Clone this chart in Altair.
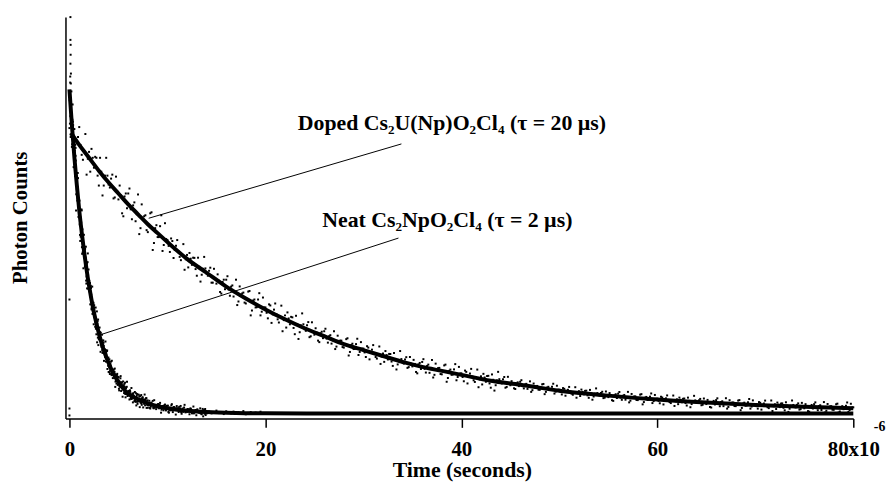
import altair as alt
import pandas as pd

# ---------------- data ----------------
DOPED_T = [0,.25,.5,.75,1,1.25,1.5,1.75,2,2.25,2.5,2.75,3,3.25,3.5,3.75,4,4.25,4.5,4.75,
5,5.25,5.5,5.75,6,6.25,6.5,6.75,7,7.25,7.5,7.75,8,8.25,8.5,8.75,9,9.25,9.5,9.75,
10,10.25,10.5,10.75,11,11.25,11.5,11.75,12,12.25,12.5,12.75,13,13.25,13.5,13.75,14,14.25,14.5,14.75,
15,15.25,15.5,15.75,16,16.25,16.5,16.75,17,17.25,17.5,17.75,18,18.25,18.5,18.75,19,19.25,19.5,19.75,
20,20.25,20.5,20.75,21,21.25,21.5,21.75,22,22.25,22.5,22.75,23,23.25,23.5,23.75,24,24.25,24.5,24.75,
25,25.25,25.5,25.75,26,26.25,26.5,26.75,27,27.25,27.5,27.75,28,28.25,28.5,28.75,29,29.25,29.5,29.75,
30,30.25,30.5,30.75,31,31.25,31.5,31.75,32,32.25,32.5,32.75,33,33.25,33.5,33.75,34,34.25,34.5,34.75,
35,35.25,35.5,35.75,36,36.25,36.5,36.75,37,37.25,37.5,37.75,38,38.25,38.5,38.75,39,39.25,39.5,39.75,
40,40.25,40.5,40.75,41,41.25,41.5,41.75,42,42.25,42.5,42.75,43,43.25,43.5,43.75,44,44.25,44.5,44.75,
45,45.25,45.5,45.75,46,46.25,46.5,46.75,47,47.25,47.5,47.75,48,48.25,48.5,48.75,49,49.25,49.5,49.75,
50,50.25,50.5,50.75,51,51.25,51.5,51.75,52,52.25,52.5,52.75,53,53.25,53.5,53.75,54,54.25,54.5,54.75,
55,55.25,55.5,55.75,56,56.25,56.5,56.75,57,57.25,57.5,57.75,58,58.25,58.5,58.75,59,59.25,59.5,59.75,
60,60.25,60.5,60.75,61,61.25,61.5,61.75,62,62.25,62.5,62.75,63,63.25,63.5,63.75,64,64.25,64.5,64.75,
65,65.25,65.5,65.75,66,66.25,66.5,66.75,67,67.25,67.5,67.75,68,68.25,68.5,68.75,69,69.25,69.5,69.75,
70,70.25,70.5,70.75,71,71.25,71.5,71.75,72,72.25,72.5,72.75,73,73.25,73.5,73.75,74,74.25,74.5,74.75,
75,75.25,75.5,75.75,76,76.25,76.5,76.75,77,77.25,77.5,77.75,78,78.25,78.5,78.75,79,79.25,79.5,79.75,80]
DOPED_V = [288,269,287,274,289,261,265,241,264,267,248,258,230,244,230,258,231,237,217,239,
216,220,199,222,222,206,210,194,221,187,196,200,183,202,165,187,178,189,164,192,
175,163,174,165,175,158,160,145,160,162,150,157,139,148,140,158,141,144,132,146,
131,134,121,135,135,125,128,118,135,113,119,122,111,123,99,114,107,115,99,117,
107,96,109,100,111,95,98,83,99,102,90,97,80,90,82,101,85,89,77,92,
79.5,81.5,72,82.5,83,75.5,78,70.5,83,67.5,72,73.5,66.5,75,58.5,69,65,70,59,72,
65.5,57,66.5,61,69,57,59.5,50,60.5,63,54.5,60,48,55,49.5,63,51,54.5,46,57,
47.5,50,40.5,51,52,45,48,41,54,39,44,46,39.5,48.5,32,43,39,44.5,33.5,47,
40.5,32.5,42,37,45,33.5,36,26.5,37.5,40,32,38,26,34,28.5,42,31,34.5,26,37,
28.5,30.1,24.7,31.4,32,27.6,29.2,24.8,32.4,23.5,26.5,27.8,23.9,29.4,19.5,26.2,23.8,26.9,20.1,28,
24,19.2,24.9,22,26.8,20,21.5,15.9,22.5,24.1,19.3,23,15.8,20.4,17.1,25.3,18.4,20.6,15.5,22.2,
16.5,18.1,12.7,19.4,20,16,17.9,13.9,21.8,12.9,16,17.3,13.5,19,9.2,15.9,13.6,17,10.5,18.7,
15,10.3,16.1,13.3,18.2,11.5,13.1,7.6,14.3,16,11.3,15.1,8,12.7,9.5,17.8,11,13.3,8.3,15.1,
9.5,11.2,6,12.7,13.5,9.5,11.5,7.4,15.4,6.6,9.8,11.1,7.4,13,3.3,10,7.8,11.3,4.9,13.2,
9.6,4.9,10.8,8,13,6.3,8,2.5,9.3,11,6.4,10.2,3.2,7.9,4.8,13.1,6.4,8.7,3.9,10.7,
5.2,6.9,1.8,8.6,9.4,5.4,7.5,3.5,11.5,2.7,6,7.4,3.7,9.3,1.0,6.5,4.3,7.8,1.5,9.8,6.2]

DOPED_T2 = [.125,.375,.625,.875,1.125,1.375,1.625,1.875,2.125,2.375,2.625,2.875,3.125,3.375,3.625,3.875,4.125,4.375,4.625,4.875,
5.125,5.375,5.625,5.875,6.125,6.375,6.625,6.875,7.125,7.375,7.625,7.875,8.125,8.375,8.625,8.875,9.125,9.375,9.625,9.875,
10.125,10.375,10.625,10.875,11.125,11.375,11.625,11.875,12.125,12.375,12.625,12.875,13.125,13.375,13.625,13.875,14.125,14.375,14.625,14.875,
15.125,15.375,15.625,15.875,16.125,16.375,16.625,16.875,17.125,17.375,17.625,17.875,18.125,18.375,18.625,18.875,19.125,19.375,19.625,19.875,
20.125,20.375,20.625,20.875,21.125,21.375,21.625,21.875,22.125,22.375,22.625,22.875,23.125,23.375,23.625,23.875,24.125,24.375,24.625,24.875,
25.125,25.375,25.625,25.875,26.125,26.375,26.625,26.875,27.125,27.375,27.625,27.875,28.125,28.375,28.625,28.875,29.125,29.375,29.625,29.875,
30.125,30.375,30.625,30.875,31.125,31.375,31.625,31.875,32.125,32.375,32.625,32.875,33.125,33.375,33.625,33.875,34.125,34.375,34.625,34.875,
35.125,35.375,35.625,35.875,36.125,36.375,36.625,36.875,37.125,37.375,37.625,37.875,38.125,38.375,38.625,38.875,39.125,39.375,39.625,39.875,
40.125,40.375,40.625,40.875,41.125,41.375,41.625,41.875,42.125,42.375,42.625,42.875,43.125,43.375,43.625,43.875,44.125,44.375,44.625,44.875,
45.125,45.375,45.625,45.875,46.125,46.375,46.625,46.875,47.125,47.375,47.625,47.875,48.125,48.375,48.625,48.875,49.125,49.375,49.625,49.875,
50.125,50.375,50.625,50.875,51.125,51.375,51.625,51.875,52.125,52.375,52.625,52.875,53.125,53.375,53.625,53.875,54.125,54.375,54.625,54.875,
55.125,55.375,55.625,55.875,56.125,56.375,56.625,56.875,57.125,57.375,57.625,57.875,58.125,58.375,58.625,58.875,59.125,59.375,59.625,59.875,
60.125,60.375,60.625,60.875,61.125,61.375,61.625,61.875,62.125,62.375,62.625,62.875,63.125,63.375,63.625,63.875,64.125,64.375,64.625,64.875,
65.125,65.375,65.625,65.875,66.125,66.375,66.625,66.875,67.125,67.375,67.625,67.875,68.125,68.375,68.625,68.875,69.125,69.375,69.625,69.875,
70.125,70.375,70.625,70.875,71.125,71.375,71.625,71.875,72.125,72.375,72.625,72.875,73.125,73.375,73.625,73.875,74.125,74.375,74.625,74.875,
75.125,75.375,75.625,75.875,76.125,76.375,76.625,76.875,77.125,77.375,77.625,77.875,78.125,78.375,78.625,78.875,79.125,79.375,79.625,79.875]
DOPED_V2 = [279,291,260,279,271,256,282,257,244,258,259,240,258,220,240,240,228,241,218,224,
230,202,219,207,227,196,213,201,181,211,199,185,190,203,172,190,178,200,170,176,
169.1,176.6,156.9,169.3,163.7,154.7,170.9,155.6,147.4,156.2,157.2,145.7,157.2,133.1,146,146.4,139,147.1,132,135.9,
140.4,122.6,132.7,125.4,138.5,118.8,129.2,122.1,109.4,128.2,121.1,111.9,115.3,123.6,103.9,115,107.3,121.4,102.7,107,
101.6,110.1,91.4,104.8,100.1,91.8,108.8,94.2,86.7,95.9,97.5,86.3,98.6,75.2,88.9,90,83.4,92.2,77.9,82.5,
86,73.5,81,76,85.5,71.5,79,74,65,78.5,73.5,67,69.6,75.9,62.1,70.4,65.1,75.4,62.1,65.4,
61.6,67.9,54.6,64.4,61.1,55.4,67.6,57.4,52.1,58.9,60.1,52.4,61.1,44.4,54.1,54.9,50.3,56.8,46.8,50.3,
54.1,41.9,49.6,44.9,54.8,41.3,49.3,44.8,36.3,50.3,45.8,39.8,42.8,49.3,35.8,44.3,39.3,49.8,36.8,40.3,
36.8,43.3,30.3,40.3,37.3,31.8,44.3,34.3,29.3,36.3,37.8,30.3,39.4,23.1,33.4,34.6,30.3,36.8,26.8,30.3,
32.6,25.4,30.3,27.6,33.6,25.3,29.9,27.0,21.8,30.2,27.6,24.0,25.9,29.8,21.8,26.9,23.9,30.0,22.0,23.9,
21.7,25.6,17.9,23.9,22.2,18.9,26.5,20.5,17.6,21.8,22.8,18.3,23.8,13.9,20.0,20.6,18.0,21.9,16.0,18.1,
20.6,13.4,18.3,15.6,21.7,13.8,18.7,16.2,11.2,19.7,17.1,13.6,15.5,19.5,11.5,16.7,13.8,20.2,12.5,14.7,
12.7,16.8,9.1,15.3,13.6,10.5,18.1,12.3,9.4,13.8,14.8,10.5,16.0,6.3,12.4,13.2,10.6,14.7,8.8,11.1,
13.7,6.6,11.6,9.1,15.3,7.3,12.3,9.8,4.9,13.4,10.9,7.5,9.5,13.5,5.6,10.9,8.1,14.6,7.0,9.3,
7.4,11.5,3.9,10.1,8.5,5.4,13.1,7.3,4.5,8.9,10.0,5.7,11.3,1.6,7.8,8.6,6.1,10.2,4.4,6.8,
9.4,2.4,7.4,5.0,11.2,3.3,8.3,5.9,1.0,9.6,7.1,3.8,5.8,9.9,2.0,7.4,4.6,11.1,3.5,5.9]

NEAT_T = [0,0,0,.08,.1,.1,.1,.12,.12,.14,.15,
.05,.1,.15,.2,.25,.3,.35,.4,.45,.5,.55,.6,.65,.7,.75,.8,.85,.9,.95,1,
1.05,1.1,1.15,1.2,1.25,1.3,1.35,1.4,1.45,1.5,1.55,1.6,1.65,1.7,1.75,1.8,1.85,1.9,1.95,2,
2.05,2.1,2.15,2.2,2.25,2.3,2.35,2.4,2.45,2.5,2.55,2.6,2.65,2.7,2.75,2.8,2.85,2.9,2.95,3,
3.05,3.1,3.15,3.2,3.25,3.3,3.35,3.4,3.45,3.5,3.55,3.6,3.65,3.7,3.75,3.8,3.85,3.9,3.95,4,
4.05,4.1,4.15,4.2,4.25,4.3,4.35,4.4,4.45,4.5,4.55,4.6,4.65,4.7,4.75,4.8,4.85,4.9,4.95,5,
5.05,5.1,5.15,5.2,5.25,5.3,5.35,5.4,5.45,5.5,5.55,5.6,5.65,5.7,5.75,5.8,5.85,5.9,5.95,6,
6.05,6.1,6.15,6.2,6.25,6.3,6.35,6.4,6.45,6.5,6.55,6.6,6.65,6.7,6.75,6.8,6.85,6.9,6.95,7,
7.05,7.1,7.15,7.2,7.25,7.3,7.35,7.4,7.45,7.5,7.55,7.6,7.65,7.7,7.75,7.8,7.85,7.9,7.95,8,
8.1,8.2,8.3,8.4,8.5,8.6,8.7,8.8,8.9,9,9.1,9.2,9.3,9.4,9.5,9.6,9.7,9.8,9.9,10,
10.1,10.2,10.3,10.4,10.5,10.6,10.7,10.8,10.9,11,11.1,11.2,11.3,11.4,11.5,11.6,11.7,11.8,11.9,12,
12.1,12.2,12.3,12.4,12.5,12.6,12.7,12.8,12.9,13,13.1,13.2,13.3,13.4,13.5,13.6,13.7,13.8,13.9,14,
14.25,14.5,14.75,15,15.25,15.5,15.75,16,16.25,16.5,16.75,17,17.25,17.5,17.75,18,18.25,18.5,18.75,19,19.25,19.5,19.75,20]
NEAT_V = [115,5,-2,340,400,377,353,372,362,333,343,
292.5,300,306.5,325,295.6,296.4,294.4,268.5,275.8,259.2,265.2,271.4,255.2,221.2,226.2,214.9,242.7,215.2,213.2,197.9,
190.8,174.1,178.4,192.7,204.9,161.1,162.5,166.1,165.5,158.4,165.7,166.4,157.3,134.1,138.3,126.2,152.7,139.6,145.3,132.3,
128.2,131.6,123.1,126.7,105.1,108.0,100.5,110.6,111.7,106.5,97.1,96.9,92.6,85.5,79.9,103.0,90.4,76.5,69.0,74.8,
76.7,78.4,75.6,81.4,68.7,69.0,63.9,71.8,73.8,68.3,62.8,64.9,58.9,64.1,61.2,57.4,63.6,53.9,48.1,41.9,
46.6,41.6,43.3,48.2,52.4,38.7,39.4,40.9,40.9,39.0,41.6,42.0,39.5,32.2,33.9,30.2,38.9,34.9,37.0,33.1,
25.0,27.8,30.3,35.5,29.6,30.7,31.1,25.9,28.5,25.4,27.6,29.8,26.9,19.6,21.5,19.6,26.9,21.1,21.3,18.3,
20.6,22.4,20.1,22.1,15.0,16.7,14.6,18.9,19.8,18.5,15.7,16.2,15.2,13.1,11.7,20.4,16.5,11.9,9.7,12.1,
12.9,14.5,13.7,17.3,11.5,12.3,10.3,14.9,16.4,14.2,12.0,13.6,11.1,14.2,13.3,11.9,15.4,11.0,8.5,5.8,
8.2,5.6,6.9,10.0,12.7,5.2,5.9,7.0,7.4,6.5,5.9,8.9,7.6,3.8,5.0,3.2,8.4,6.4,7.8,5.9,
1.5,3.3,5.0,8.2,5.1,5.9,6.4,3.6,5.3,3.8,5.3,6.7,5.2,1.3,2.6,1.7,6.0,2.9,3.2,1.7,
3.1,4.3,3.0,4.4,0.2,1.3,0.1,2.9,3.5,2.8,1.3,1.6,1.1,0.0,-0.8,4.6,2.3,-0.3,-1.6,0.0,
2.0,0.1,1.5,2.9,0.4,1.1,-0.6,2.2,0.8,0.0,1.9,-0.4,1.2,0.5,2.4,-0.8,0.6,1.4,-0.2,0.9,0.1,1.8,-0.5,0.3]

NEAT_T2 = [.025,.075,.125,.175,.225,.275,.325,.375,.425,.475,.525,.575,.625,.675,.725,.775,.825,.875,.925,.975,
1.025,1.075,1.125,1.175,1.225,1.275,1.325,1.375,1.425,1.475,1.525,1.575,1.625,1.675,1.725,1.775,1.825,1.875,1.925,1.975,
2.025,2.075,2.125,2.175,2.225,2.275,2.325,2.375,2.425,2.475,2.525,2.575,2.625,2.675,2.725,2.775,2.825,2.875,2.925,2.975,
3.025,3.075,3.125,3.175,3.225,3.275,3.325,3.375,3.425,3.475,3.525,3.575,3.625,3.675,3.725,3.775,3.825,3.875,3.925,3.975,
4.025,4.075,4.125,4.175,4.225,4.275,4.325,4.375,4.425,4.475,4.525,4.575,4.625,4.675,4.725,4.775,4.825,4.875,4.925,4.975,
5.025,5.075,5.125,5.175,5.225,5.275,5.325,5.375,5.425,5.475,5.525,5.575,5.625,5.675,5.725,5.775,5.825,5.875,5.925,5.975,
6.025,6.075,6.125,6.175,6.225,6.275,6.325,6.375,6.425,6.475,6.525,6.575,6.625,6.675,6.725,6.775,6.825,6.875,6.925,6.975,
7.025,7.075,7.125,7.175,7.225,7.275,7.325,7.375,7.425,7.475,7.525,7.575,7.625,7.675,7.725,7.775,7.825,7.875,7.925,7.975,
8.05,8.15,8.25,8.35,8.45,8.55,8.65,8.75,8.85,8.95,9.05,9.15,9.25,9.35,9.45,9.55,9.65,9.75,9.85,9.95,
10.05,10.15,10.25,10.35,10.45,10.55,10.65,10.75,10.85,10.95,11.05,11.15,11.25,11.35,11.45,11.55,11.65,11.75,11.85,11.95,
12.05,12.15,12.25,12.35,12.45,12.55,12.65,12.75,12.85,12.95,13.05,13.15,13.25,13.35,13.45,13.55,13.65,13.75,13.85,13.95]
NEAT_V2 = [316.1,333.9,281.6,312.3,296.4,271.6,311.8,271.1,248.6,269.5,270.6,239.5,268.0,204.8,237.1,237.1,217.4,237.5,198.3,207.8,
214.8,180.2,197.8,182.9,205.9,167.8,185.8,171.3,146.5,180.3,166.2,148.2,153.6,168.3,131.1,151.1,136.1,161.5,125.9,133.2,
133.9,122.9,110.1,128.9,119.9,106.4,128.0,103.9,105.9,90.0,109.2,101.5,87.5,106.9,86.8,91.9,71.8,93.1,94.8,79.4,
78.1,86.7,82.1,62.2,74.5,67.2,79.5,61.1,68.7,71.4,53.1,62.1,57.2,72.6,52.3,59.4,63.0,44.9,51.4,56.4,
48.2,54.7,39.8,50.3,46.5,39.9,53.2,41.7,35.7,43.1,44.4,35.7,45.3,26.8,37.5,38.4,33.0,40.0,28.8,32.4,
36.7,23.3,32.0,26.8,37.7,22.7,31.5,26.3,16.9,32.3,27.3,20.6,24.0,31.1,16.3,25.7,20.2,31.9,17.6,21.5,
22.8,18.8,14.1,23.4,20.3,15.2,25.7,15.8,17.5,11.2,20.5,17.8,12.4,21.7,13.4,16.4,8.1,18.3,19.6,13.4,
13.1,18.9,17.1,6.4,14.2,10.8,18.6,8.7,13.7,15.9,6.1,11.9,9.7,19.1,8.2,12.8,15.4,5.6,9.8,13.2,
9.0,12.8,5.0,11.0,9.2,5.9,13.4,7.4,4.4,8.7,9.6,5.2,10.7,0.8,6.9,7.6,5.0,9.0,3.1,5.4,
7.9,0.8,5.8,3.2,9.4,1.4,6.4,3.8,-1.1,7.5,5.0,1.5,3.5,7.6,-0.3,5.0,2.2,8.7,1.1,3.4,
4.5,2.1,-0.8,5.2,3.4,0.3,7.0,0.8,2.1,-1.8,4.2,2.7,0.7,5.2,0.2,2.1,-2.9,3.5,4.5,0.6]

DOPED_FIT_T = [0.17,1,2,3,4,5,6,7,8,9,10,12,14,16,18,20,22,24,26,28,30,32,34,36,38,40,43,46,50,55,60,65,70,75,80]
DOPED_FIT_V = [283,271,258,245,233,222,211,201,191,182,173,156,142,128,116,105,95,86,78,70,64,58,52,47,43,39,33,29,23,18,14,11,8.6,6.7,5.2]
NEAT_FIT_T = [0,0.25,0.5,0.75,1,1.25,1.5,1.75,2,2.5,3,3.5,4,4.5,5,5.5,6,7,8,9,10,11,12,14,17,20,30,80]
NEAT_FIT_V = [327,291,259,231,205,183,163,145,129,102,81,64,51,40,32,25,20,14.4,10.3,7.3,5.3,3.8,2.7,1.4,0.5,0.2,0,0]

X_TICKS = [0, 20, 40, 60, 80]
LABELS = ["Doped Cs\u2082U(Np)O\u2082Cl\u2084 (\u03c4 = 20 \u00b5s)", "Neat Cs\u2082NpO\u2082Cl\u2084 (\u03c4 = 2 \u00b5s)"]
EXPONENT = ["-6"]

# ---------------- annotation geometry (data units) ----------------
ANNOT_LINES = pd.DataFrame({"t1": [8.09, 3.34], "v1": [197, 80], "t2": [33.88, 33.58], "v2": [272, 177]})
ANNOT_TEXT = pd.DataFrame({"t": [23.3, 25.8], "v": [285.7, 187.7], "label": LABELS})
EXP_TEXT = pd.DataFrame({"t": [82.1], "v": [-18], "label": EXPONENT})

FONT = "Liberation Serif"
xs = alt.Scale(domain=[-0.405, 80], nice=False, zero=False)
ys = alt.Scale(domain=[-5, 400], nice=False, zero=False)

x_axis = alt.Axis(
    values=X_TICKS, title="Time (seconds)", grid=False,
    labelExpr="datum.value == 80 ? '80x10\u00a0\u00a0\u00a0' : datum.label",
    labelFont=FONT, labelFontWeight="bold", labelFontSize=21, labelColor="black",
    labelBaseline="alphabetic", labelPadding=28, labelFlush=False, labelOverlap=False,
    tickSize=9, tickColor="black", tickWidth=1.5,
    domainColor="black", domainWidth=1.5,
    titleFont=FONT, titleFontWeight="bold", titleFontSize=22, titleColor="black",
    titleBaseline="alphabetic", titleY=59, titleX=400,
)
y_axis = alt.Axis(
    title="Photon Counts", grid=False, labels=False, ticks=False,
    domainColor="black", domainWidth=1.5,
    titleFont=FONT, titleFontWeight="bold", titleFontSize=21, titleColor="black",
    titleAngle=270, titleBaseline="alphabetic", titleAlign="center", titleX=-39, titleY=202,
)

def X(field):
    return alt.X(field, type="quantitative", scale=xs, axis=x_axis)

def Y(field):
    return alt.Y(field, type="quantitative", scale=ys, axis=y_axis)

def dots(t, v):
    return alt.Chart(pd.DataFrame({"t": t, "v": v})).mark_square(
        size=4, color="black", opacity=1).encode(x=X("t"), y=Y("v"))

def fit(t, v):
    return alt.Chart(pd.DataFrame({"t": t, "v": v})).mark_line(
        color="black", strokeWidth=4, interpolate="monotone").encode(x=X("t"), y=Y("v"))

leaders = alt.Chart(ANNOT_LINES).mark_rule(color="black", strokeWidth=1).encode(
    x=X("t1"), y=Y("v1"), x2="t2", y2="v2")
texts = alt.Chart(ANNOT_TEXT).mark_text(
    align="left", baseline="alphabetic", font=FONT, fontWeight="bold", fontSize=22, color="black"
).encode(x=X("t"), y=Y("v"), text="label:N")
exp_text = alt.Chart(EXP_TEXT).mark_text(
    align="left", baseline="alphabetic", font=FONT, fontWeight="bold", fontSize=14, color="black"
).encode(x=X("t"), y=Y("v"), text="label:N")

chart = alt.layer(
    dots(DOPED_T, DOPED_V), dots(DOPED_T2, DOPED_V2),
    dots(NEAT_T, NEAT_V), dots(NEAT_T2, NEAT_V2),
    fit(DOPED_FIT_T, DOPED_FIT_V), fit(NEAT_FIT_T, NEAT_FIT_V),
    leaders, texts, exp_text,
).properties(
    width=795, height=405,
    autosize=alt.AutoSizeParams(type="none"),
    padding={"left": 58, "top": 7, "right": 33, "bottom": 64},
).configure_view(strokeWidth=0)

chart.save("out.html", embed_options={"renderer": "svg", "actions": False})
